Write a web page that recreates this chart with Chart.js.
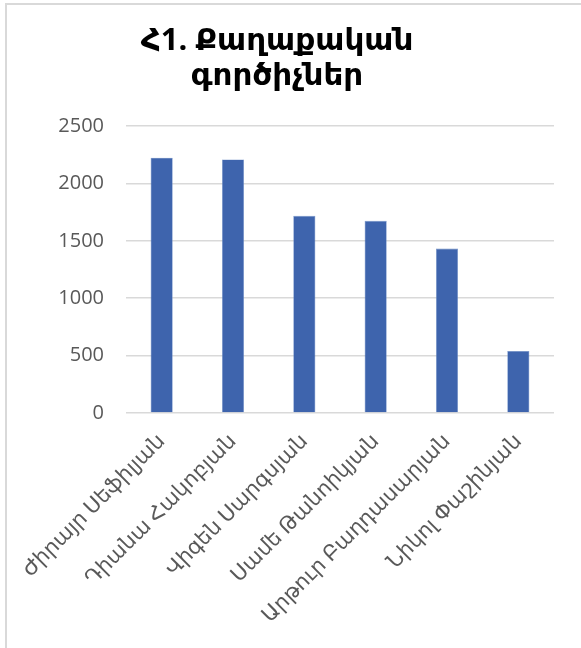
<!DOCTYPE html>
<html>
<head>
<meta charset="utf-8">
<script src="https://cdn.jsdelivr.net/npm/chart.js@4"></script>
<style>
    html, body { margin: 0; padding: 0; background: #fff; overflow: hidden; }
    #frame {
        position: absolute; left: 5px; top: 3px; width: 620px; height: 700px;
        border: 2px solid #d9d9d9; box-sizing: border-box;
    }
    #wrap { position: absolute; left: 0; top: 0; width: 581px; height: 648px; }
</style>
</head>
<body>
<div id="frame"></div>
<div id="wrap"><canvas id="bar-plot" width="581" height="648"></canvas></div>
<script>
// chart data
const chartTitle = ['Հ1. Քաղաքական', 'գործիչներ'];
const candidates = ['Ժիրայր Սեֆիլյան', 'Դիանա Հակոբյան', 'Վիգեն Սարգսյան',
    'Սամե Թանոիկյան', 'Արթուր Բաղդասարյան', 'Նիկոլ Փաշինյան'];
const votes = [2224, 2209, 1718, 1674, 1433, 541];
const yTicks = [0, 500, 1000, 1500, 2000, 2500];

const fontFamily = "'Open Sans', 'DejaVu Sans', sans-serif";
const labelColor = '#595959';

let ctx = document.getElementById('bar-plot').getContext('2d');
let ch = new Chart(ctx, {
    type: 'bar',
    data: {
        labels: candidates,
        datasets: [{
            label: 'Votes',
            data: votes,
            backgroundColor: '#3e64ad',
            borderColor: '#6f8fc8',
            borderWidth: 0.6,
            categoryPercentage: 1,
            barPercentage: 0.31
        }]
    },
    options: {
        responsive: false,
        animation: false,
        layout: {
            padding: { left: 0, right: 27, top: 0, bottom: 0 }
        },
        plugins: {
            legend: { display: false },
            tooltip: { enabled: false },
            title: {
                display: true,
                text: chartTitle,
                color: '#000',
                font: { family: fontFamily, size: 31, weight: 'bold', lineHeight: 1.13 },
                padding: { top: 24, bottom: 32 }
            }
        },
        scales: {
            y: {
                min: yTicks[0],
                max: yTicks[yTicks.length - 1],
                afterBuildTicks(scale) {
                    scale.ticks = yTicks.map(v => ({ value: v }));
                },
                afterFit(scale) {
                    scale.width = 126;
                },
                border: { display: false },
                grid: {
                    color: '#d9d9d9',
                    lineWidth: 1.5,
                    drawTicks: false
                },
                ticks: {
                    color: labelColor,
                    padding: 22,
                    font: { family: fontFamily, size: 20 },
                    callback: v => String(v)
                }
            },
            x: {
                afterFit(scale) {
                    scale.height = 235;
                },
                border: { display: false },
                grid: { display: false },
                ticks: {
                    color: labelColor,
                    minRotation: 45,
                    maxRotation: 45,
                    autoSkip: false,
                    padding: 8,
                    font: { family: fontFamily, size: 21 }
                }
            }
        }
    }
});
</script>
</body>
</html>
